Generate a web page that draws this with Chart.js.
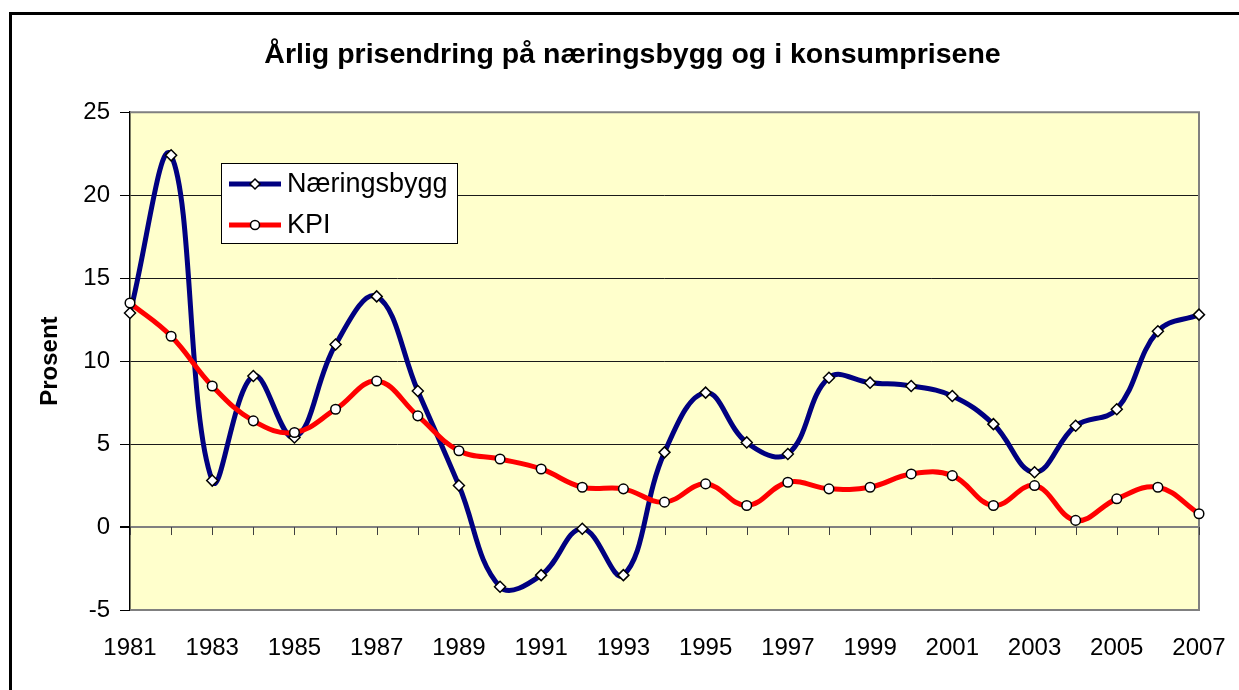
<!DOCTYPE html>
<html lang="no">
<head>
  <meta charset="UTF-8" />
  <title>Årlig prisendring på næringsbygg og i konsumprisene</title>
  <script src="https://cdn.jsdelivr.net/npm/chart.js"></script>
  <style>
    body { margin: 0; background: #fff; }
    #wrap { width: 1239px; height: 690px; }
  </style>
</head>
<body>
  <div id="wrap"><canvas id="myChart" width="1239" height="690"></canvas></div>

  <script>
    // data
    const years = ['1981', '1982', '1983', '1984', '1985', '1986', '1987', '1988', '1989', '1990',
                   '1991', '1992', '1993', '1994', '1995', '1996', '1997', '1998', '1999', '2000',
                   '2001', '2002', '2003', '2004', '2005', '2006', '2007'];
    const naeringsbygg = [12.9, 22.4, 2.8, 9.1, 5.4, 11.0, 13.9, 8.2, 2.5, -3.6,
                          -2.9, -0.1, -2.9, 4.5, 8.1, 5.1, 4.4, 9.0, 8.7, 8.5,
                          7.9, 6.2, 3.3, 6.1, 7.1, 11.8, 12.8];
    const kpi = [13.5, 11.5, 8.5, 6.4, 5.7, 7.1, 8.8, 6.7, 4.6, 4.1,
                 3.5, 2.4, 2.3, 1.5, 2.6, 1.3, 2.7, 2.3, 2.4, 3.2,
                 3.1, 1.3, 2.5, 0.4, 1.7, 2.4, 0.8];
    const yTicks = [-5, 0, 5, 10, 15, 20, 25];

    const FONT = "'Liberation Sans', Arial, sans-serif";

    // yellow plot background + grey frame (top, right, bottom)
    const plotBg = {
      id: 'plotBg',
      beforeDraw(chart) {
        const { ctx, chartArea: a } = chart;
        ctx.save();
        ctx.fillStyle = '#FFFFCC';
        ctx.fillRect(a.left, a.top, a.right - a.left, a.bottom - a.top);
        ctx.restore();
      },
      beforeDatasetsDraw(chart) {
        const { ctx, chartArea: a, scales } = chart;
        ctx.save();
        ctx.strokeStyle = '#808080';
        ctx.lineWidth = 2;
        ctx.beginPath();
        ctx.moveTo(a.left, a.top);
        ctx.lineTo(a.right, a.top);
        ctx.lineTo(a.right, a.bottom);
        ctx.lineTo(a.left, a.bottom);
        ctx.stroke();
        // small tick marks hanging from the zero line
        const y0 = scales.y.getPixelForValue(0);
        ctx.strokeStyle = '#404040';
        ctx.lineWidth = 1;
        ctx.beginPath();
        years.forEach((_, i) => {
          const x = Math.round(scales.x.getPixelForValue(i)) + 0.5;
          ctx.moveTo(x, y0);
          ctx.lineTo(x, y0 + 8);
        });
        ctx.stroke();
        ctx.restore();
      }
    };

    function drawMarker(ctx, style, x, y, r) {
      ctx.beginPath();
      if (style === 'rectRot') {
        ctx.moveTo(x, y - r);
        ctx.lineTo(x + r, y);
        ctx.lineTo(x, y + r);
        ctx.lineTo(x - r, y);
        ctx.closePath();
      } else {
        ctx.arc(x, y, r, 0, Math.PI * 2);
      }
      ctx.fillStyle = '#fff';
      ctx.fill();
      ctx.strokeStyle = '#000';
      ctx.lineWidth = 1.5;
      ctx.stroke();
    }

    // legend box inside the plot + outer black frame
    const boxLegend = {
      id: 'boxLegend',
      afterDraw(chart) {
        const { ctx } = chart;
        ctx.save();
        ctx.fillStyle = '#fff';
        ctx.fillRect(221, 163, 237, 81);
        ctx.strokeStyle = '#000';
        ctx.lineWidth = 1;
        ctx.strokeRect(221.5, 163.5, 236, 80);
        const rows = [184, 225];
        chart.data.datasets.forEach((ds, i) => {
          const y = rows[i];
          ctx.strokeStyle = ds.borderColor;
          ctx.lineWidth = 5;
          ctx.beginPath();
          ctx.moveTo(229, y);
          ctx.lineTo(281, y);
          ctx.stroke();
          drawMarker(ctx, ds.pointStyle, 255, y, ds.pointStyle === 'rectRot' ? 5 : 4.5);
          ctx.fillStyle = '#000';
          ctx.font = '27px ' + FONT;
          ctx.textBaseline = 'middle';
          ctx.fillText(ds.label, 287, y + 1);
        });
        // outer frame
        ctx.fillStyle = '#000';
        ctx.fillRect(9, 12, chart.width, 3);
        ctx.fillRect(9, 12, 3, chart.height);
        ctx.restore();
      }
    };

    new Chart(document.getElementById('myChart'), {
      type: 'line',
      data: {
        labels: years,
        datasets: [
          {
            label: 'Næringsbygg',
            data: naeringsbygg,
            borderColor: '#000080',
            borderWidth: 5,
            pointStyle: 'rectRot',
            pointRadius: 5.5,
            pointBackgroundColor: '#fff',
            pointBorderColor: '#000',
            pointBorderWidth: 1.5,
            tension: 0.4,
            clip: false,
            order: 1
          },
          {
            label: 'KPI',
            data: kpi,
            borderColor: '#FF0000',
            borderWidth: 5,
            pointStyle: 'circle',
            pointRadius: 4.8,
            pointBackgroundColor: '#fff',
            pointBorderColor: '#000',
            pointBorderWidth: 1.5,
            tension: 0.4,
            clip: false,
            order: 0
          }
        ]
      },
      options: {
        responsive: false,
        animation: false,
        devicePixelRatio: 1,
        // left padding shifts the centred title to where it sits in the original
        layout: { padding: { left: 66, right: 40, top: 0, bottom: 0 } },
        scales: {
          x: {
            type: 'category',
            offset: false,
            // invisible tick length pushes the labels down without widening the side padding
            grid: { display: false, drawTicks: true, tickLength: 22 },
            border: { display: false },
            ticks: {
              autoSkip: false,
              maxRotation: 0,
              minRotation: 0,
              padding: 2,
              color: '#000',
              font: { family: FONT, size: 24 },
              callback: (v, i) => (i % 2 === 0 ? years[i] : '')
            },
            afterFit: s => { s.height = 80; }
          },
          y: {
            min: -5,
            max: 25,
            afterBuildTicks: s => { s.ticks = yTicks.map(v => ({ value: v })); },
            grid: {
              color: c => {
                const v = c.tick ? c.tick.value : null;
                if (v === -5 || v === 25) return 'rgba(0,0,0,0)';
                if (v === 0) return '#808080';
                return '#1a1a1a';
              },
              lineWidth: c => (c.tick && c.tick.value === 0 ? 2 : 1),
              tickColor: '#000',
              tickLength: 10
            },
            border: { color: '#000', width: 1.5 },
            ticks: {
              color: '#000',
              padding: 10,
              font: { family: FONT, size: 24 }
            },
            title: {
              display: true,
              text: 'Prosent',
              color: '#000',
              font: { family: FONT, size: 24, weight: 'bold' },
              // negative: the axis title hangs into the left padding
              padding: { top: -30, bottom: 0 }
            },
            afterFit: s => { s.width = 64; }
          }
        },
        plugins: {
          legend: { display: false },
          tooltip: { enabled: false },
          title: {
            display: true,
            text: 'Årlig prisendring på næringsbygg og i konsumprisene',
            color: '#000',
            font: { family: FONT, size: 28.5, weight: 'bold' },
            padding: { top: 38, bottom: 40 }
          }
        }
      },
      plugins: [plotBg, boxLegend]
    });
  </script>
</body>
</html>
